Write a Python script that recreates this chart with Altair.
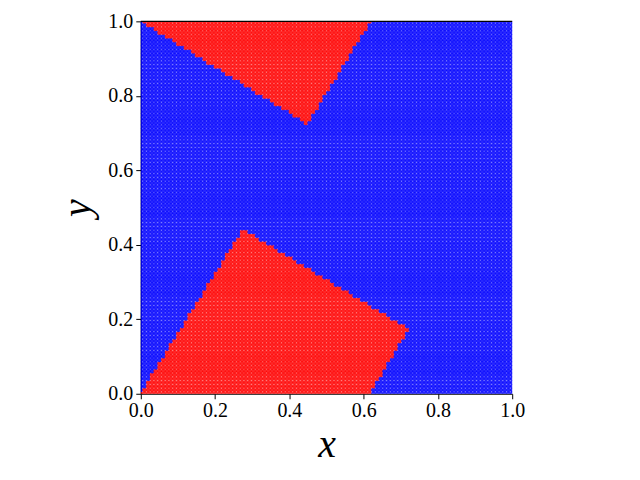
import altair as alt
import numpy as np
import pandas as pd

alt.data_transformers.disable_max_rows()

# grid resolution of the sampled points
n_grid = 100
# red regions (polygon vertices)
top_x = [-0.004, 0.449, 0.725, 0.276]
top_y = [1.003, 0.724, 1.173, 1.449]
bot_x = [-0.004, 0.274, 0.723, 0.452]
bot_y = [-0.004, 0.442, 0.174, -0.268]
labels = ["blue", "red"]
colors = ["#0000ff", "#ff0000"]
ticks = [0.0, 0.2, 0.4, 0.6, 0.8, 1.0]


def inside(px, py, vx, vy):
    res = np.zeros(px.shape, dtype=bool)
    n = len(vx)
    j = n - 1
    for i in range(n):
        xi, yi, xj, yj = vx[i], vy[i], vx[j], vy[j]
        cond = ((yi > py) != (yj > py)) & (
            px < (xj - xi) * (py - yi) / (yj - yi + 1e-12) + xi)
        res ^= cond
        j = i
    return res


g = np.linspace(0, 1, n_grid)
X, Y = np.meshgrid(g, g)
X = X.ravel()
Y = Y.ravel()
red = inside(X, Y, top_x, top_y) | inside(X, Y, bot_x, bot_y)
df = pd.DataFrame({"x": X, "y": Y, "c": np.where(red, "red", "blue")})

font = "Liberation Serif"

base = alt.Chart(df).mark_circle(size=22, opacity=0.85, strokeWidth=0,
                                 clip=True).encode(
    x=alt.X("x:Q", scale=alt.Scale(domain=[0, 1], nice=False, zero=False),
            axis=alt.Axis(values=ticks, format=".1f", title="x", grid=False,
                          domainColor="black", tickColor="black",
                          tickSize=5, labelFont=font, labelFontSize=20,
                          labelColor="black", labelFlush=False,
                          titleFont=font,
                          titleFontStyle="italic", titleFontWeight="normal",
                          titleFontSize=40, titleColor="black",
                          titlePadding=4, labelPadding=2)),
    y=alt.Y("y:Q", scale=alt.Scale(domain=[0, 1], nice=False, zero=False),
            axis=alt.Axis(values=ticks, format=".1f", title="y", grid=False,
                          domainColor="black", tickColor="black",
                          tickSize=5, labelFont=font, labelFontSize=20,
                          labelColor="black", labelFlush=False,
                          titleFont=font,
                          titleFontStyle="italic", titleFontWeight="normal",
                          titleFontSize=40, titleColor="black",
                          titlePadding=10, labelPadding=3)),
    color=alt.Color("c:N", scale=alt.Scale(domain=labels, range=colors),
                    legend=None),
)

top_line = alt.Chart(pd.DataFrame({"a": [0]})).mark_rule(
    color="black", strokeWidth=1.2).encode(
    x=alt.value(0), x2=alt.value(372), y=alt.value(0))

chart = alt.layer(base, top_line).properties(
    width=372, height=373,
    padding={"left": 133, "top": 13, "right": 120, "bottom": 90},
    autosize="none",
).configure_view(stroke=None).configure_axis(domainWidth=1.2)

chart.save("out.html", embed_options={"renderer": "svg", "actions": False})
